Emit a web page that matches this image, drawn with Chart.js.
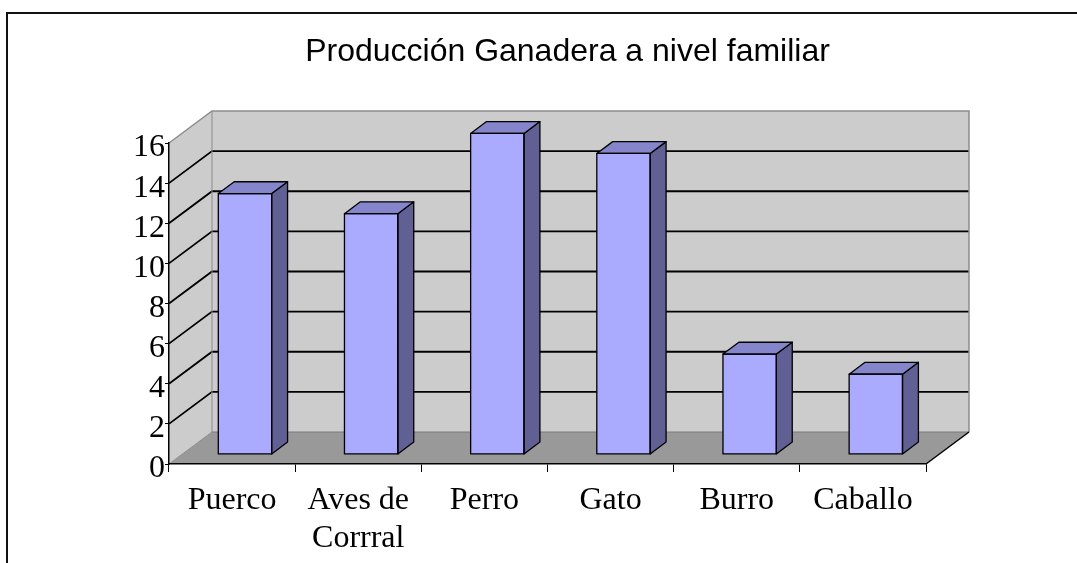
<!DOCTYPE html>
<html>
<head>
<meta charset="utf-8">
<script src="https://cdn.jsdelivr.net/npm/chart.js@4/dist/chart.umd.min.js"></script>
<style>
  html, body { margin: 0; padding: 0; background: #fff; overflow: hidden; }
  canvas { display: block; }
</style>
</head>
<body>
<canvas id="c" width="1077" height="563"></canvas>
<script>
// ---- data ----
const categories = [['Puerco'], ['Aves de', 'Corrral'], ['Perro'], ['Gato'], ['Burro'], ['Caballo']];
const values = [13, 12, 16, 15, 5, 4];
const yMin = 0;
const yMax = 16;
const yStep = 2;
const titleText = 'Producción Ganadera a nivel familiar';

// ---- 3D styling constants ----
const DEPTH_X = 43, DEPTH_Y = 32;
const BAR_FRONT = 0.30, BAR_BACK = 0.67;

const walls3d = {
  id: 'walls3d',
  beforeDraw(chart) {
    const { ctx, chartArea: a, scales } = chart;
    const y = scales.y;
    const dx = DEPTH_X, dy = DEPTH_Y;
    ctx.save();
    // outer frame
    ctx.fillStyle = '#111';
    ctx.fillRect(6, 12, 2, chart.height);
    ctx.fillRect(6, 12, chart.width, 2);
    // back wall
    ctx.fillStyle = '#CCCCCC';
    ctx.fillRect(a.left + dx, a.top - dy, a.right - a.left, a.bottom - a.top);
    // left wall
    ctx.beginPath();
    ctx.moveTo(a.left, a.top);
    ctx.lineTo(a.left + dx, a.top - dy);
    ctx.lineTo(a.left + dx, a.bottom - dy);
    ctx.lineTo(a.left, a.bottom);
    ctx.closePath();
    ctx.fill();
    // floor
    ctx.fillStyle = '#999999';
    ctx.beginPath();
    ctx.moveTo(a.left, a.bottom);
    ctx.lineTo(a.left + dx, a.bottom - dy);
    ctx.lineTo(a.right + dx, a.bottom - dy);
    ctx.lineTo(a.right, a.bottom);
    ctx.closePath();
    ctx.fill();
    // gridlines on walls
    ctx.strokeStyle = '#000';
    ctx.lineWidth = 1.8;
    y.ticks.forEach(t => {
      if (t.value <= yMin || t.value >= yMax) return;
      const yp = y.getPixelForValue(t.value);
      ctx.beginPath();
      ctx.moveTo(a.left, yp);
      ctx.lineTo(a.left + dx, yp - dy);
      ctx.lineTo(a.right + dx, yp - dy);
      ctx.stroke();
    });
    // wall edges (gray)
    ctx.strokeStyle = '#8c8c8c';
    ctx.lineWidth = 1.5;
    ctx.beginPath();
    ctx.moveTo(a.left, a.top);
    ctx.lineTo(a.left + dx, a.top - dy);
    ctx.lineTo(a.right + dx, a.top - dy);
    ctx.lineTo(a.right + dx, a.bottom - dy);
    ctx.stroke();
    ctx.lineWidth = 1;
    ctx.beginPath();
    ctx.moveTo(a.left + dx, a.top - dy);
    ctx.lineTo(a.left + dx, a.bottom - dy);
    ctx.stroke();
    ctx.beginPath();
    ctx.moveTo(a.left, a.bottom);
    ctx.lineTo(a.left + dx, a.bottom - dy);
    ctx.stroke();
    ctx.strokeStyle = '#7a7a7a';
    ctx.beginPath();
    ctx.moveTo(a.left + dx, a.bottom - dy);
    ctx.lineTo(a.right + dx, a.bottom - dy);
    ctx.stroke();
    // floor right edge
    ctx.strokeStyle = '#000';
    ctx.lineWidth = 1.5;
    ctx.beginPath();
    ctx.moveTo(a.right, a.bottom);
    ctx.lineTo(a.right + dx, a.bottom - dy);
    ctx.stroke();
    ctx.restore();
  },
  beforeDatasetsDraw(chart) {
    const ctx = chart.ctx;
    ctx.save();
    ctx.translate(DEPTH_X * BAR_FRONT, -DEPTH_Y * BAR_FRONT);
  },
  afterDatasetsDraw(chart) {
    const ctx = chart.ctx;
    const ox = DEPTH_X * (BAR_BACK - BAR_FRONT);
    const oy = -DEPTH_Y * (BAR_BACK - BAR_FRONT);
    const meta = chart.getDatasetMeta(0);
    ctx.lineWidth = 1.3;
    ctx.strokeStyle = '#000';
    ctx.lineJoin = 'round';
    meta.data.forEach(el => {
      const p = el.getProps(['x', 'y', 'base', 'width'], true);
      const l = p.x - p.width / 2, r = p.x + p.width / 2, t = p.y, b = p.base;
      // side
      ctx.fillStyle = '#606094';
      ctx.beginPath();
      ctx.moveTo(r, t);
      ctx.lineTo(r + ox, t + oy);
      ctx.lineTo(r + ox, b + oy);
      ctx.lineTo(r, b);
      ctx.closePath();
      ctx.fill();
      ctx.stroke();
      // top
      ctx.fillStyle = '#8585CC';
      ctx.beginPath();
      ctx.moveTo(l, t);
      ctx.lineTo(l + ox, t + oy);
      ctx.lineTo(r + ox, t + oy);
      ctx.lineTo(r, t);
      ctx.closePath();
      ctx.fill();
      ctx.stroke();
      // front outline
      ctx.strokeRect(l, t, r - l, b - t);
    });
    ctx.restore();
  }
};

new Chart(document.getElementById('c'), {
  type: 'bar',
  data: {
    labels: categories,
    datasets: [{
      data: values,
      backgroundColor: '#AAAAFF',
      borderColor: '#000',
      borderWidth: 0,
      barPercentage: 0.423,
      categoryPercentage: 1,
      clip: false
    }]
  },
  options: {
    responsive: false,
    animation: false,
    events: [],
    layout: { padding: { left: 58, right: 0, top: 0, bottom: 0 } },
    plugins: {
      legend: { display: false },
      tooltip: { enabled: false },
      title: {
        display: true,
        text: titleText,
        color: '#000',
        font: { family: 'Liberation Sans', size: 32, weight: 'normal', lineHeight: 1.2 },
        padding: { top: 33, bottom: 71.6 }
      }
    },
    scales: {
      x: {
        offset: true,
        grid: { display: true, offset: true, drawOnChartArea: false, drawTicks: true, tickLength: 8, color: '#000', lineWidth: 1 },
        border: { display: true, color: '#000', width: 1.5 },
        ticks: {
          color: '#000',
          autoSkip: false,
          maxRotation: 0,
          minRotation: 0,
          padding: 9,
          font: { family: 'Liberation Serif', size: 32, lineHeight: 1.2 }
        },
        afterFit(s) { s.height = 99; s.paddingLeft = 0; s.paddingRight = 0; }
      },
      y: {
        min: yMin,
        max: yMax,
        grid: { display: true, drawOnChartArea: false, drawTicks: true, tickLength: 4, color: '#000', lineWidth: 1 },
        border: { display: true, color: '#000', width: 1.5 },
        ticks: {
          stepSize: yStep,
          autoSkip: false,
          color: '#000',
          padding: 0,
          labelOffset: 5,
          font: { family: 'Liberation Serif', size: 32 }
        },
        afterFit(s) { s.width = 111; s.paddingTop = 0; s.paddingBottom = 0; }
      },
      y2: {
        position: 'right',
        min: yMin,
        max: yMax,
        grid: { display: false },
        border: { display: false },
        ticks: { display: false },
        afterFit(s) { s.width = 151; s.paddingTop = 0; s.paddingBottom = 0; }
      }
    }
  },
  plugins: [walls3d]
});
</script>
</body>
</html>
